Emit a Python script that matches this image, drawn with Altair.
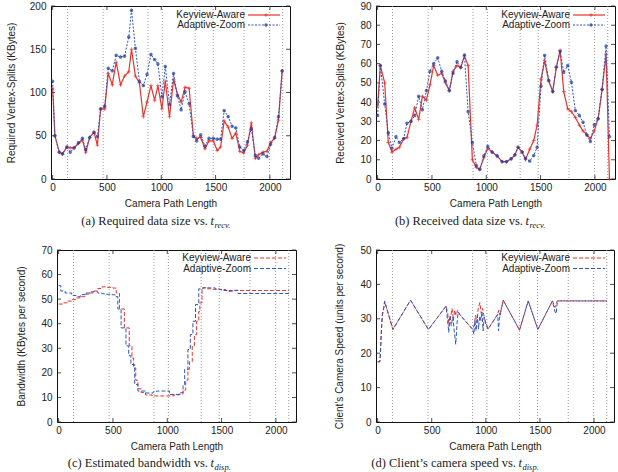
import altair as alt
import pandas as pd

# ---------------------------------------------------------------- data
# keyview positions along the camera path (dotted vertical markers)
keyviews = [137, 465, 878, 1010, 1312, 1478, 1762, 1997, 2118]
x_ticks = [0, 500, 1000, 1500, 2000]

# (a) required vertex-splits (KBytes) vs. t_recv
req_x = [0, 21, 61, 91, 131, 162, 198, 238, 274, 305, 341, 381, 412, 442, 479,
         512, 549, 585, 625, 662, 701, 726, 762, 799, 835, 869, 905, 939, 969, 1006,
         1037, 1076, 1113, 1149, 1183, 1219, 1256, 1296, 1326, 1363, 1402, 1439, 1479,
         1515, 1546, 1579, 1616, 1652, 1686, 1723, 1759, 1793, 1829, 1866, 1896, 1936,
         1973, 2006, 2043, 2079, 2113]
req_keyview = [105, 50, 31, 29, 37, 36, 36, 41, 45, 31, 48, 54, 39, 81, 81,
               122, 109, 135, 109, 119, 124, 150, 119, 111, 72, 89, 108, 91, 108, 81,
               113, 72, 115, 98, 89, 106, 105, 50, 47, 48, 35, 44, 44, 33, 37,
               67, 60, 47, 53, 32, 30, 39, 65, 24, 28, 31, 32, 42, 47, 68, 125]
req_adaptive = [113, 50, 31, 29, 37, 31, 36, 42, 47, 34, 48, 54, 49, 81, 84,
                128, 125, 143, 141, 142, 164, 195, 151, 113, 108, 121, 144, 138, 133, 95,
                130, 86, 122, 96, 80, 101, 87, 49, 44, 51, 38, 47, 47, 46, 46,
                79, 72, 61, 59, 37, 33, 43, 58, 27, 24, 29, 26, 40, 48, 72, 125]

# (b) received vertex-splits (KBytes) vs. t_recv
rec_x = [0, 25, 65, 98, 132, 169, 200, 240, 270, 307, 341, 378, 412, 449, 482,
         516, 553, 590, 624, 660, 694, 731, 765, 799, 833, 872, 909, 940, 977, 1014,
         1054, 1100, 1146, 1186, 1229, 1263, 1293, 1330, 1361, 1400, 1437, 1468, 1504,
         1537, 1575, 1612, 1645, 1680, 1713, 1750, 1784, 1820, 1857, 1891, 1926, 1958,
         1994, 2030, 2066, 2103, 2134]
rec_keyview = [38, 59, 50, 19, 14, 15.5, 16.5, 21, 21.5, 30, 37, 31, 43, 41, 49,
               59, 54, 55, 50, 46, 56, 59, 58, 64, 59, 10, 6, 5, 11, 16,
               14, 12, 9, 9, 10.5, 12.5, 16.5, 14, 10, 15.5, 20, 28, 52, 61.5, 51,
               45.5, 58, 67, 45.5, 36.5, 35, 32, 28, 25, 23, 21, 25, 31.5, 46.5, 65, 0]
rec_adaptive = [33, 59, 39, 24, 16, 22, 19, 21, 29, 30, 33, 43, 36, 46, 56,
                60, 63, 56, 51, 46, 55, 61, 58, 64.5, 35, 19, 7, 5, 12, 17,
                14, 12, 9, 9, 10.5, 12.5, 16.5, 14, 10.8, 9.3, 12.2, 16.5, 48.3, 64.3, 51.3,
                45.5, 58.2, 66.4, 55.5, 59, 50.3, 35.6, 33, 29.5, 22.9, 19.5, 28.2, 31.3,
                46.6, 69.2, 22]

# (c) estimated bandwidth (KBytes/s) vs. t_disp, piecewise constant
bw_keyview_x = [0, 40, 80, 120, 160, 200, 240, 280, 320, 360, 400, 450, 500, 530,
                560, 605, 650, 675, 690, 710, 730, 760, 800, 860, 1060, 1110, 1145,
                1170, 1190, 1205, 1230, 1250, 1270, 1290, 1300, 1320, 1360, 1420,
                1500, 1560, 1620, 2120]
bw_keyview = [48, 48.5, 49.2, 49.8, 50.5, 51, 52, 52.5, 53.3, 54.3, 55, 54.8, 54.5,
              52.5, 46, 38.3, 31, 26, 22, 17, 13.5, 12, 11, 10.6, 11, 11.3, 13,
              17, 21.5, 24.5, 31, 35.5, 41, 45, 48.5, 54.6, 54.2, 54, 53.5, 53.2,
              53.5, 53.5]
bw_adaptive_x = [0, 20, 60, 120, 160, 200, 240, 300, 360, 400, 440, 480, 520, 545,
                 575, 620, 645, 665, 700, 730, 800, 870, 900, 1020, 1110, 1145, 1160,
                 1190, 1212, 1236, 1260, 1290, 1330, 1400, 1440, 1480, 1540, 1600,
                 1650, 2120]
bw_adaptive = [55.5, 53.3, 52.5, 51.5, 51, 51.8, 52.5, 53, 52.5, 52.2, 52, 51.8, 51,
               46, 38.3, 31, 27, 23.4, 15.3, 12.6, 11.8, 12.3, 12.6, 11.2, 11.9, 15.3,
               21.4, 29.5, 35.6, 41, 47.8, 54.2, 54.6, 54.6, 54.2, 53.9, 53.5, 53.6,
               52.3, 52.3]

# (d) client's camera speed (units/s) vs. t_disp
spd_keyview_x = [0, 20, 25, 35, 45, 55, 65, 141, 304, 470, 633, 648, 660, 672, 688,
                 700, 712, 725, 740, 760, 879, 895, 905, 918, 930, 945, 958, 970, 985,
                 1000, 1020, 1110, 1120, 1130, 1161, 1312, 1392, 1481, 1616, 1640,
                 1660, 2120]
spd_keyview = [17.5, 17.5, 20, 27, 32, 33, 35.2, 26.9, 35.4, 26.9, 33.7, 31.5, 28, 30,
               33, 29.5, 32.5, 31, 32.5, 31.2, 26.9, 28.5, 31, 29, 33, 34.7, 31.5, 33,
               30.5, 29, 27, 31.3, 32.5, 31, 35.4, 26.7, 35.2, 26.9, 35.2, 33.3, 35.2,
               35.2]
spd_adaptive_x = [0, 20, 25, 33, 43, 52, 65, 141, 304, 470, 633, 645, 658, 668, 680,
                  695, 708, 722, 735, 745, 760, 879, 890, 900, 910, 922, 932, 945, 955,
                  965, 975, 985, 1000, 1020, 1110, 1118, 1125, 1161, 1312, 1392, 1481,
                  1616, 1640, 1650, 1662, 2120]
spd_adaptive = [17.5, 17.5, 19, 25, 31, 32, 35, 26.9, 35.4, 26.9, 33.7, 30, 26, 31, 28,
                30.5, 26.5, 22.6, 29, 32, 31.2, 26.9, 25.5, 29.5, 26.5, 31, 27, 30.8,
                29.5, 32, 26.5, 30.5, 28.5, 27, 31.3, 26.5, 30, 35.4, 26.7, 35.2, 26.9,
                35.2, 32, 31.5, 35.2, 35.2]

# ---------------------------------------------------------------- styling
SANS = "Liberation Sans"
SERIF = "Liberation Serif"
RED = "#e8332b"
BLUE = "#2c56c4"
NAVY = "#1f3a9a"
TXT = "#222222"
XDOM = [-15, 2185]
PLUS = "M-1,0L1,0M0,-1L0,1"
STAR = "M-1,0L1,0M0,-1L0,1M-0.7,-0.7L0.7,0.7M-0.7,0.7L0.7,-0.7"
ONE = pd.DataFrame({"k": [0]})


def series(xs, ys):
    return pd.DataFrame({"x": xs, "y": ys})


def panel(W, H, ydom, yticks, ytitle, ext, tpad, lines, legend_rows, caption,
          sub, cap_x, cap_y, left_reach):
    xs = alt.Scale(domain=XDOM, nice=False, zero=False)
    ys = alt.Scale(domain=ydom, nice=False, zero=False)
    xaxis = alt.Axis(values=x_ticks, format="d", title="Camera Path Length",
                     ticks=False, domain=False, grid=False, labelPadding=3,
                     titlePadding=6, labelFont=SANS, titleFont=SANS,
                     labelFontSize=10, titleFontSize=10, titleFontWeight="normal",
                     labelColor=TXT, titleColor=TXT)
    yaxis = alt.Axis(values=yticks, format="d", title=ytitle, ticks=False,
                     domain=False, grid=False, labelPadding=5, titlePadding=tpad,
                     minExtent=ext, maxExtent=ext, labelFont=SANS,
                     titleFont=SANS, labelFontSize=10, titleFontSize=10,
                     titleFontWeight="normal", labelColor=TXT, titleColor=TXT)

    def X(field):
        return alt.X(field, scale=xs, axis=xaxis)

    def Y(field):
        return alt.Y(field, scale=ys, axis=yaxis)

    layers = []
    # dotted keyview markers
    layers.append(
        alt.Chart(pd.DataFrame({"kv": keyviews}))
        .mark_rule(color="#808080", strokeDash=[1, 2], strokeWidth=0.8)
        .encode(x=X("kv:Q"))
    )
    # inward tick marks on all four sides
    yt = pd.DataFrame({"v": yticks})
    xt = pd.DataFrame({"v": x_ticks})
    tick = dict(color=TXT, strokeWidth=0.8)
    layers.append(alt.Chart(yt).mark_rule(**tick).encode(
        y=Y("v:Q"), x=alt.value(0), x2=alt.value(4)))
    layers.append(alt.Chart(yt).mark_rule(**tick).encode(
        y=Y("v:Q"), x=alt.value(W - 4), x2=alt.value(W)))
    layers.append(alt.Chart(xt).mark_rule(**tick).encode(
        x=X("v:Q"), y=alt.value(H - 4), y2=alt.value(H)))
    layers.append(alt.Chart(xt).mark_rule(**tick).encode(
        x=X("v:Q"), y=alt.value(0), y2=alt.value(4)))

    # data series
    for df, style in lines:
        enc = dict(x=X("x:Q"), y=Y("y:Q"))
        layers.append(alt.Chart(df).mark_line(**style["line"]).encode(**enc))
        if style.get("point"):
            layers.append(alt.Chart(df).mark_point(**style["point"]).encode(**enc))

    # legend (label left of sample, gnuplot style)
    for label, ly, style in legend_rows:
        layers.append(alt.Chart(ONE).mark_text(
            text=label, align="right", baseline="middle", font=SANS, fontSize=10,
            color=TXT).encode(x=alt.value(194), y=alt.value(ly)))
        layers.append(alt.Chart(ONE).mark_rule(**style["line"]).encode(
            x=alt.value(197), x2=alt.value(229), y=alt.value(ly)))
        if style.get("point"):
            layers.append(alt.Chart(ONE).mark_point(**style["point"]).encode(
                x=alt.value(215), y=alt.value(ly)))

    # sub-figure caption with a subscripted time variable
    layers.append(alt.Chart(ONE).mark_text(
        text=caption, align="right", baseline="alphabetic", font=SERIF,
        fontSize=12.5, color=TXT).encode(x=alt.value(cap_x), y=alt.value(cap_y)))
    layers.append(alt.Chart(ONE).mark_text(
        text="t", align="left", baseline="alphabetic", font=SERIF, fontSize=12.5,
        fontStyle="italic", color=TXT).encode(x=alt.value(cap_x + 2.5),
                                              y=alt.value(cap_y)))
    layers.append(alt.Chart(ONE).mark_text(
        text=sub, align="left", baseline="alphabetic", font=SERIF, fontSize=8.5,
        fontStyle="italic", color=TXT).encode(x=alt.value(cap_x + 6.5),
                                              y=alt.value(cap_y + 3)))
    # transparent spacer that fixes how far the panel reaches to the left
    layers.append(alt.Chart(ONE).mark_rule(opacity=0).encode(
        x=alt.value(-left_reach), x2=alt.value(-left_reach + 1),
        y=alt.value(H / 2)))

    return alt.layer(*layers).properties(width=W, height=H)


def gutter(w):
    # empty, unframed cell used to set each row's left margin
    return (
        alt.Chart(ONE).mark_rule(opacity=0)
        .encode(x=alt.value(0), y=alt.value(0), y2=alt.value(1))
        .properties(width=w, height=1,
                    view=alt.ViewBackground(stroke="transparent"))
    )


solid_red = {"line": dict(color=RED, strokeWidth=1.2),
             "point": dict(shape=PLUS, filled=False, stroke=RED, strokeWidth=1,
                           size=14)}
dotted_blue = {"line": dict(color=BLUE, strokeWidth=1, strokeDash=[2, 1.5]),
               "point": dict(shape=STAR, filled=False, stroke=NAVY, strokeWidth=1.1,
                             size=12)}
dashed_red = {"line": dict(color=RED, strokeWidth=1, strokeDash=[4, 2])}
dashed_blue = {"line": dict(color=BLUE, strokeWidth=1, strokeDash=[4, 2])}
dashed_red_step = {"line": dict(color=RED, strokeWidth=1, strokeDash=[4, 2],
                                interpolate="step-after")}
dashed_blue_step = {"line": dict(color=BLUE, strokeWidth=1, strokeDash=[4, 2],
                                 interpolate="step-after")}

pa = panel(239, 173, [0, 200], [0, 50, 100, 150, 200],
           "Required Vertex-Splits (KBytes)", 20, 15,
           [(series(req_x, req_keyview), solid_red),
            (series(req_x, req_adaptive), dotted_blue)],
           [("Keyview-Aware", 9, solid_red), ("Adaptive-Zoom", 19, dotted_blue)],
           "(a)  Required data size vs.", "recv.", 157, 218.5, 59)

pb = panel(239, 173, [0, 90], list(range(0, 91, 10)),
           "Received Vertex-Splits (KBytes)", 16, 15,
           [(series(rec_x, rec_keyview), solid_red),
            (series(rec_x, rec_adaptive), dotted_blue)],
           [("Keyview-Aware", 9, solid_red), ("Adaptive-Zoom", 19, dotted_blue)],
           "(b)  Received data size vs.", "recv.", 147, 218.5, 84)

pc = panel(239, 172, [0, 70], list(range(0, 71, 10)),
           "Bandwidth (KBytes per second)", 16, 15,
           [(series(bw_keyview_x, bw_keyview), dashed_red_step),
            (series(bw_adaptive_x, bw_adaptive), dashed_blue_step)],
           [("Keyview-Aware", 8, dashed_red), ("Adaptive-Zoom", 18.5, dashed_blue)],
           "(c)  Estimated bandwidth vs.", "disp.", 151, 217, 65)

pd_ = panel(238, 172, [0, 50], list(range(0, 51, 10)),
            "Client\u2019s Camera Speed (units per second)", 16, 16,
            [(series(spd_keyview_x, spd_keyview), dashed_red),
             (series(spd_adaptive_x, spd_adaptive), dashed_blue)],
            [("Keyview-Aware", 8, dashed_red), ("Adaptive-Zoom", 18.5, dashed_blue)],
            "(d)  Client\u2019s camera speed vs.", "disp.", 140, 217, 78)

row1 = alt.hconcat(gutter(1), pa, pb, spacing=0)
row2 = alt.hconcat(gutter(1), pc, pd_, spacing=0)

chart = (
    alt.vconcat(row1, row2, spacing=12)
    .properties(padding={"left": -12, "top": 0, "right": 0, "bottom": 0},
                background="white")
    .configure_view(stroke="#111111", strokeWidth=1)
)

chart.save("out.html", embed_options={"renderer": "svg", "actions": False})
